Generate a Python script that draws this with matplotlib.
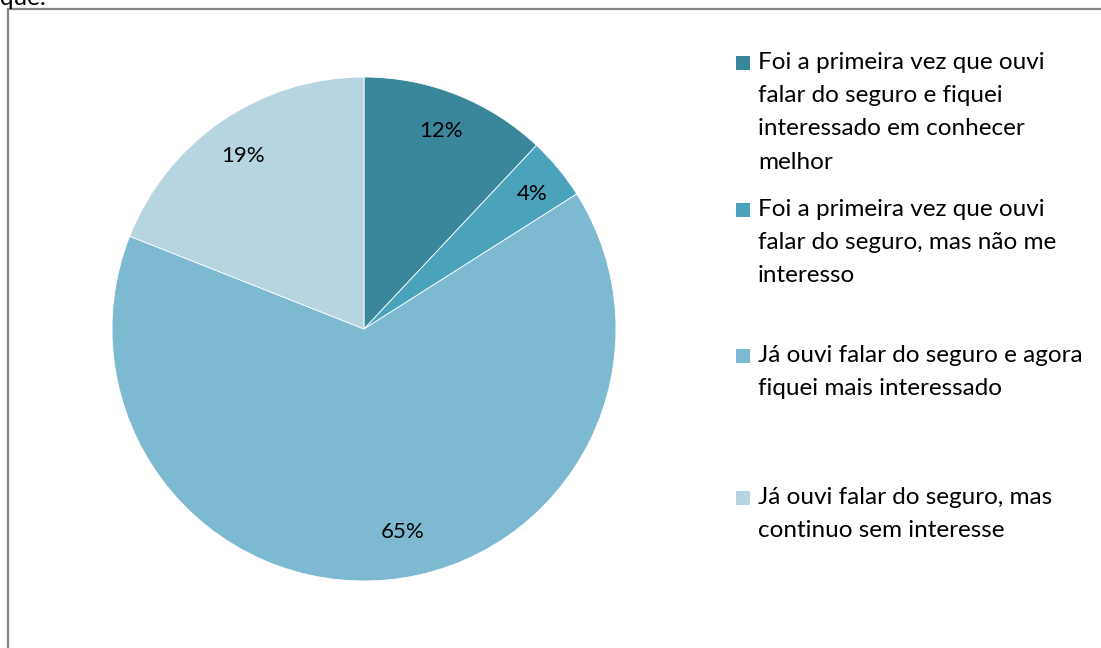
import matplotlib.pyplot as plt
from matplotlib.lines import Line2D
from matplotlib.patches import Rectangle

plt.rcParams['font.family'] = ['Lato', 'DejaVu Sans']

labels = [
    "Foi a primeira vez que ouvi\nfalar do seguro e fiquei\ninteressado em conhecer\nmelhor",
    "Foi a primeira vez que ouvi\nfalar do seguro, mas não me\ninteresso",
    "Já ouvi falar do seguro e agora\nfiquei mais interessado",
    "Já ouvi falar do seguro, mas\ncontinuo sem interesse",
]
values = [12, 4, 65, 19]
colors = ['#3A869B', '#4AA3BA', '#7DB9D0', '#B7D5E0']

W, H = 1101, 648
fig = plt.figure(figsize=(W / 100, H / 100), dpi=100)

# pie axes: center (364, 329), radius ~252 px
cx, cy, r = 364, 329, 252
ax = fig.add_axes([(cx - r) / W, 1 - (cy + r) / H, 2 * r / W, 2 * r / H])
wedges, texts, autotexts = ax.pie(
    values, colors=colors, startangle=90, counterclock=False,
    autopct='%1.0f%%', pctdistance=0.7,
    wedgeprops=dict(linewidth=0.6, edgecolor='white'),
    textprops=dict(fontsize=16, color='black'))
ax.set_xlim(-1, 1)
ax.set_ylim(-1, 1)
ax.set_aspect('equal')

# manual placement of the percent labels
label_px = [(441, 131), (532, 194), (403, 532), (243, 156)]
for t, (px, py) in zip(autotexts, label_px):
    t.set_transform(fig.transFigure)
    t.set_position((px / W, 1 - py / H))
    t.set_ha('center')
    t.set_va('center')

# legend drawn by hand
legend_y = [63, 210, 356, 498]
for w, lab, y in zip(wedges, labels, legend_y):
    fig.patches.append(Rectangle((736 / W, 1 - (y + 7) / H), 14 / W, 14 / H,
                                 transform=fig.transFigure,
                                 facecolor=w.get_facecolor(), edgecolor='none'))
    fig.text(758 / W, 1 - (y - 11) / H, lab, fontsize=17.5, va='top', ha='left',
             linespacing=1.72, color='black')

# chart frame (only top and left edges visible)
fig.add_artist(Line2D([8 / W, 8 / W], [0, 1 - 9 / H], transform=fig.transFigure,
                      color='#868686', linewidth=1.6))
fig.add_artist(Line2D([8 / W, 1], [1 - 9 / H, 1 - 9 / H], transform=fig.transFigure,
                      color='#868686', linewidth=1.6))

# clipped title text at the top edge
fig.text(0, 1 - 5 / H, "que:", fontsize=17.5, va='baseline', ha='left')

fig.savefig('out.png', dpi=100, facecolor='white')
